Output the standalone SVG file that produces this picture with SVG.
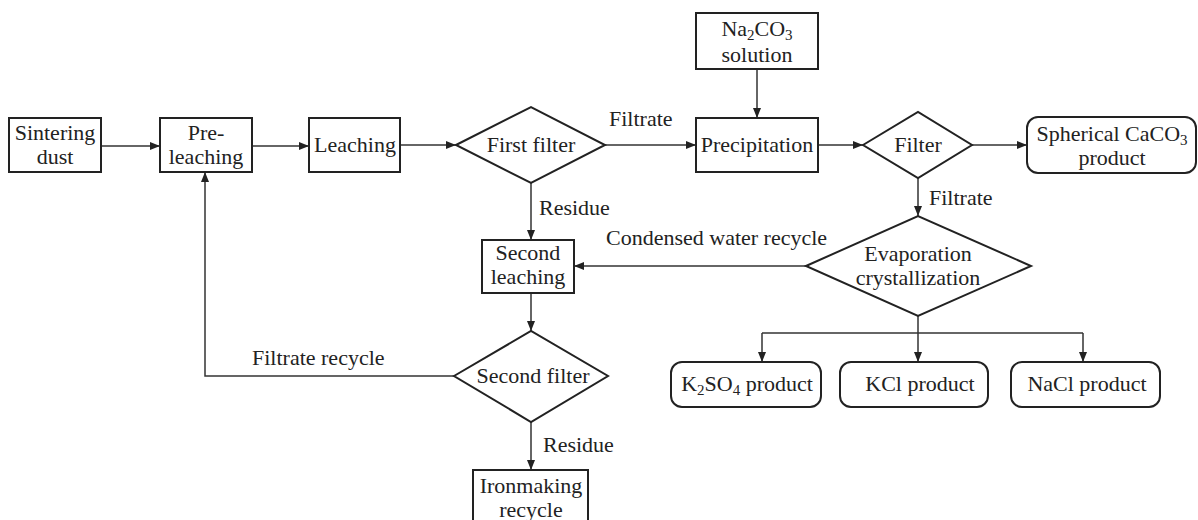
<svg xmlns="http://www.w3.org/2000/svg" width="1198" height="520" viewBox="0 0 1198 520">
<style>
.box{fill:#fff;stroke:#222;stroke-width:2}
.t{font-family:"Liberation Serif","Times New Roman",serif;font-size:22px;fill:#222;text-anchor:middle}
.l{font-family:"Liberation Serif","Times New Roman",serif;font-size:22px;fill:#222}
.c{fill:none;stroke:#333;stroke-width:1.5}
.s{font-size:15px}
</style>
<defs>
<marker id="a" viewBox="0 0 10 8" refX="10" refY="4" markerWidth="10" markerHeight="8" markerUnits="userSpaceOnUse" orient="auto">
<path d="M0,0 L10,4 L0,8 Z" fill="#222"/>
</marker>
</defs>
<rect width="1198" height="520" fill="#fff"/>
<g id="connectors">
<line class="c" x1="101" y1="146" x2="160" y2="146" marker-end="url(#a)"/>
<line class="c" x1="252" y1="146" x2="309" y2="146" marker-end="url(#a)"/>
<line class="c" x1="400" y1="145" x2="456" y2="145" marker-end="url(#a)"/>
<line class="c" x1="605" y1="145" x2="696" y2="145" marker-end="url(#a)"/>
<line class="c" x1="757" y1="69" x2="757" y2="118" marker-end="url(#a)"/>
<line class="c" x1="818" y1="145" x2="863" y2="145" marker-end="url(#a)"/>
<line class="c" x1="972" y1="145" x2="1027" y2="145" marker-end="url(#a)"/>
<line class="c" x1="918" y1="178" x2="918" y2="216" marker-end="url(#a)"/>
<line class="c" x1="531" y1="183" x2="531" y2="240" marker-end="url(#a)"/>
<line class="c" x1="806" y1="266" x2="574" y2="266" marker-end="url(#a)"/>
<line class="c" x1="531" y1="293" x2="531" y2="331" marker-end="url(#a)"/>
<polyline class="c" points="454,376 205,376 205,172" marker-end="url(#a)"/>
<line class="c" x1="531" y1="422" x2="531" y2="470" marker-end="url(#a)"/>
<line class="c" x1="918" y1="316" x2="918" y2="333"/>
<line class="c" x1="762" y1="333" x2="1083" y2="333"/>
<line class="c" x1="762" y1="333" x2="762" y2="362" marker-end="url(#a)"/>
<line class="c" x1="918" y1="333" x2="918" y2="362" marker-end="url(#a)"/>
<line class="c" x1="1083" y1="333" x2="1083" y2="362" marker-end="url(#a)"/>
<text class="l" x="609" y="126">Filtrate</text>
<text class="l" x="539" y="215">Residue</text>
<text class="l" x="929" y="205">Filtrate</text>
<text class="l" x="606" y="245">Condensed water recycle</text>
<text class="l" x="252" y="365">Filtrate recycle</text>
<text class="l" x="543" y="452">Residue</text>
</g>
<g id="sintering-dust">
<rect class="box" x="9" y="118" width="92" height="54"/>
<text class="t" x="55" y="140">Sintering</text>
<text class="t" x="55" y="164">dust</text>
</g>
<g id="pre-leaching">
<rect class="box" x="160" y="118" width="92" height="54"/>
<text class="t" x="206" y="140">Pre-</text>
<text class="t" x="206" y="164">leaching</text>
</g>
<g id="leaching">
<rect class="box" x="309" y="118" width="91" height="54"/>
<text class="t" x="355" y="152">Leaching</text>
</g>
<g id="first-filter">
<polygon class="box" points="456,145 531,107 605,145 531,183"/>
<text class="t" x="531" y="152">First filter</text>
</g>
<g id="na2co3-solution">
<rect class="box" x="696" y="13" width="122" height="56"/>
<text class="t" x="757" y="36">Na<tspan class="s" dy="4">2</tspan><tspan dy="-4">CO</tspan><tspan class="s" dy="4">3</tspan></text>
<text class="t" x="757" y="62">solution</text>
</g>
<g id="precipitation">
<rect class="box" x="696" y="118" width="122" height="54"/>
<text class="t" x="757" y="152">Precipitation</text>
</g>
<g id="filter">
<polygon class="box" points="863,145 918,112 972,145 918,178"/>
<text class="t" x="918" y="152">Filter</text>
</g>
<g id="spherical-caco3-product">
<rect class="box" x="1027" y="117" width="169" height="56" rx="11"/>
<text class="t" x="1112" y="141">Spherical CaCO<tspan class="s" dy="4">3</tspan></text>
<text class="t" x="1112" y="165">product</text>
</g>
<g id="evaporation-crystallization">
<polygon class="box" points="806,266 918,216 1031,266 918,316"/>
<text class="t" x="918" y="261">Evaporation</text>
<text class="t" x="918" y="285">crystallization</text>
</g>
<g id="second-leaching">
<rect class="box" x="482" y="240" width="92" height="53"/>
<text class="t" x="528" y="260">Second</text>
<text class="t" x="528" y="284">leaching</text>
</g>
<g id="second-filter">
<polygon class="box" points="454,376 531,331 608,376 531,422"/>
<text class="t" x="533" y="383">Second filter</text>
</g>
<g id="ironmaking-recycle">
<rect class="box" x="473" y="470" width="115" height="54"/>
<text class="t" x="531" y="493">Ironmaking</text>
<text class="t" x="531" y="517">recycle</text>
</g>
<g id="k2so4-product">
<rect class="box" x="671" y="362" width="150" height="45" rx="11"/>
<text class="t" x="747" y="391">K<tspan class="s" dy="4">2</tspan><tspan dy="-4">SO</tspan><tspan class="s" dy="4">4</tspan><tspan dy="-4"> product</tspan></text>
</g>
<g id="kcl-product">
<rect class="box" x="840" y="362" width="148" height="45" rx="11"/>
<text class="t" x="920" y="391">KCl product</text>
</g>
<g id="nacl-product">
<rect class="box" x="1011" y="362" width="149" height="45" rx="11"/>
<text class="t" x="1087" y="391">NaCl product</text>
</g>
</svg>
